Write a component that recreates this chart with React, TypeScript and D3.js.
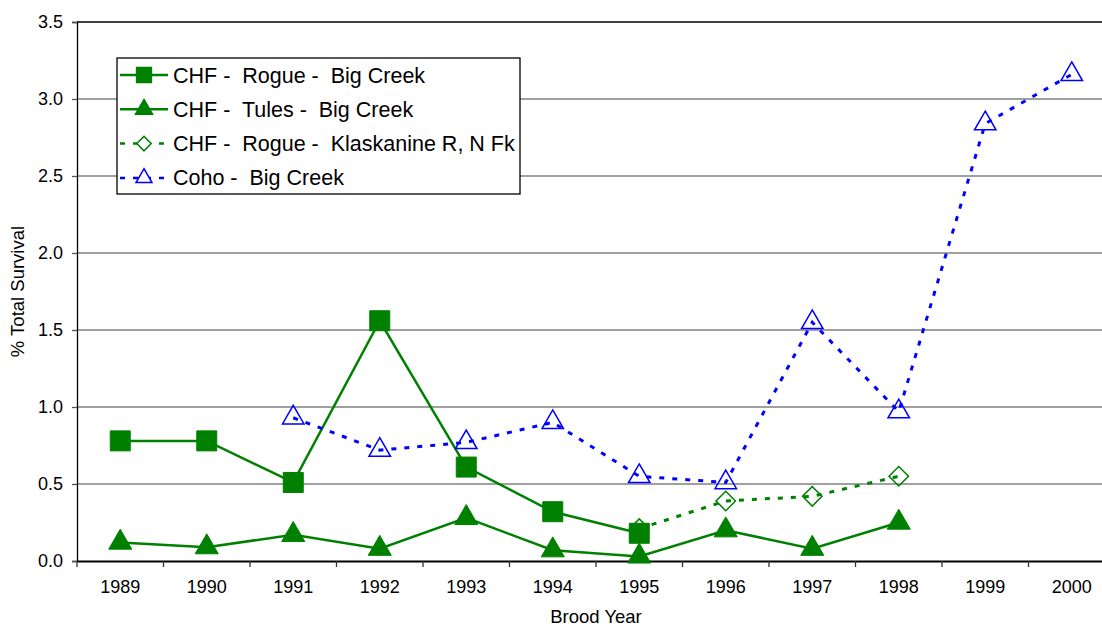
import React, { useEffect, useRef } from 'react';
import * as d3 from 'd3';

const years = ['1989', '1990', '1991', '1992', '1993', '1994', '1995', '1996', '1997', '1998', '1999', '2000'];
const rogueBigCreek = [0.78, 0.78, 0.51, 1.56, 0.61, 0.32, 0.18, null, null, null, null, null];
const tulesBigCreek = [0.12, 0.09, 0.17, 0.08, 0.28, 0.07, 0.03, 0.2, 0.08, 0.25, null, null];
const rogueKlaskanine = [null, null, null, null, null, null, 0.21, 0.39, 0.42, 0.55, null, null];
const cohoBigCreek = [null, null, 0.93, 0.72, 0.77, 0.9, 0.55, 0.51, 1.55, 0.97, 2.84, 3.16];
const yTicks = [0, 0.5, 1, 1.5, 2, 2.5, 3, 3.5];

const green = '#008000';
const blue = '#0000FF';

export default function App() {
  const ref = useRef<SVGSVGElement>(null);

  useEffect(() => {
    const svg = d3.select(ref.current);
    svg.selectAll('*').remove();

    const left = 77, right = 1115, top = 22, bottom = 561;
    const font = 'Liberation Sans, Arial, sans-serif';

    const x = d3.scaleBand().domain(years).range([left, right]);
    const y = d3.scaleLinear().domain([0, 3.5]).range([bottom, top]);
    const cx = (i: number) => x(years[i])! + x.bandwidth() / 2;

    // gridlines
    svg.append('g')
      .selectAll('line')
      .data(yTicks.filter(d => d > 0))
      .join('line')
      .attr('x1', left).attr('x2', right)
      .attr('y1', d => y(d)).attr('y2', d => y(d))
      .attr('stroke', d => d === 3.5 ? '#000' : '#808080')
      .attr('stroke-width', 1.3);

    // y axis
    const yAxis = svg.append('g')
      .attr('transform', `translate(${left},0)`)
      .call(d3.axisLeft(y).tickValues(yTicks).tickFormat(d3.format('.1f')).tickSize(5).tickPadding(9));
    yAxis.select('.domain').attr('stroke', '#000').attr('stroke-width', 1.3);
    yAxis.selectAll('.tick line').attr('stroke', '#555').attr('stroke-width', 1.3);
    yAxis.selectAll('text').attr('font-family', font).attr('font-size', 18).attr('fill', '#000');

    // x axis
    const xAxis = svg.append('g')
      .attr('transform', `translate(0,${bottom})`)
      .call(d3.axisBottom(x).tickSize(0).tickPadding(19));
    xAxis.select('.domain').attr('stroke', '#000').attr('stroke-width', 2);
    xAxis.selectAll('text').attr('font-family', font).attr('font-size', 18).attr('fill', '#000');
    xAxis.selectAll('line.sep')
      .data(d3.range(years.length + 1))
      .join('line')
      .attr('class', 'sep')
      .attr('x1', i => left + i * x.bandwidth()).attr('x2', i => left + i * x.bandwidth())
      .attr('y1', 0).attr('y2', 6)
      .attr('stroke', '#333').attr('stroke-width', 1.3);

    const line = d3.line<number | null>()
      .defined(d => d !== null)
      .x((_, i) => cx(i))
      .y(d => y(d as number));

    // diamond = square turned 45 degrees
    const series = [
      { name: 'CHF -  Rogue -  Big Creek', data: rogueBigCreek, color: green, dash: null, symbol: d3.symbolSquare, size: 400, fill: true, rot: 0 },
      { name: 'CHF -  Tules -  Big Creek', data: tulesBigCreek, color: green, dash: null, symbol: d3.symbolTriangle, size: 230, fill: true, rot: 0 },
      { name: 'CHF -  Rogue -  Klaskanine R, N Fk', data: rogueKlaskanine, color: green, dash: '5,8', symbol: d3.symbolSquare, size: 190, fill: false, rot: 45 },
      { name: 'Coho -  Big Creek', data: cohoBigCreek, color: blue, dash: '5,8', symbol: d3.symbolTriangle, size: 200, fill: false, rot: 0 },
    ];

    series.forEach(s => {
      svg.append('path')
        .datum(s.data)
        .attr('fill', 'none')
        .attr('stroke', s.color)
        .attr('stroke-width', s.dash ? 3 : 2.5)
        .attr('stroke-dasharray', s.dash)
        .attr('d', line);
    });

    series.forEach(s => {
      const pts = s.data.map((v, i) => ({ v, i })).filter(d => d.v !== null);
      svg.append('g')
        .selectAll('path')
        .data(pts)
        .join('path')
        .attr('transform', d => `translate(${cx(d.i)},${y(d.v as number)}) rotate(${s.rot})`)
        .attr('d', d3.symbol(s.symbol, s.size)())
        .attr('fill', s.fill ? s.color : 'none')
        .attr('stroke', s.color)
        .attr('stroke-width', s.fill ? 1 : 1.5);
    });

    // legend
    const lg = svg.append('g');
    lg.append('rect')
      .attr('x', 117).attr('y', 58).attr('width', 403).attr('height', 136)
      .attr('fill', '#fff').attr('stroke', '#000').attr('stroke-width', 1.3);
    series.forEach((s, k) => {
      const ly = 75 + k * 34.3;
      lg.append('line')
        .attr('x1', 120).attr('x2', 168).attr('y1', ly).attr('y2', ly)
        .attr('stroke', s.color).attr('stroke-width', 2.5)
        .attr('stroke-dasharray', s.dash ? '5,8' : null);
      lg.append('path')
        .attr('transform', `translate(144,${ly}) rotate(${s.rot})`)
        .attr('d', d3.symbol(s.symbol, s.size * 0.55)())
        .attr('fill', s.fill ? s.color : '#fff')
        .attr('stroke', s.color).attr('stroke-width', 1.5);
      lg.append('text')
        .attr('x', 173).attr('y', ly + 7.5)
        .attr('font-family', font).attr('font-size', 21.5)
        .style('white-space', 'pre')
        .text(s.name);
    });

    // axis titles
    svg.append('text')
      .attr('transform', `translate(24,${(top + bottom) / 2}) rotate(-90)`)
      .attr('text-anchor', 'middle')
      .attr('font-family', font).attr('font-size', 18.5)
      .text('% Total Survival');
    svg.append('text')
      .attr('x', (left + right) / 2).attr('y', 623)
      .attr('text-anchor', 'middle')
      .attr('font-family', font).attr('font-size', 18.5)
      .text('Brood Year');
  }, []);

  return (
    <svg ref={ref} width={1102} height={628} style={{ position: 'absolute', left: 0, top: 0, background: '#fff' }} />
  );
}
